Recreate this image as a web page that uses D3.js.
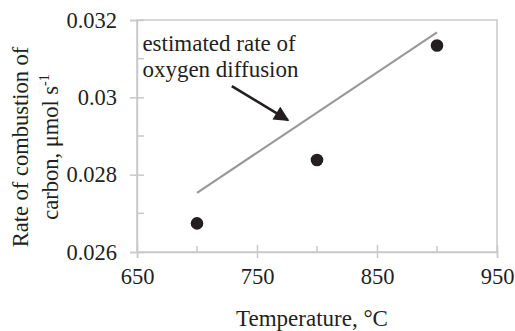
<!DOCTYPE html>
<meta charset="utf-8">
<style>
body { margin: 0; background: #fff; }
</style>
<div id="chart"></div>
<script src="https://cdn.jsdelivr.net/npm/d3@7/dist/d3.min.js"></script>
<script>
// measured rate of combustion
var temps = [700, 800, 900];
var rates = [0.02674, 0.02838, 0.03134];
// estimated oxygen diffusion line (end points)
var lineTemps = [700, 900];
var lineRates = [0.02753, 0.03168];
var xTicks = [650, 750, 850, 950];
var xMinor = [700, 800, 900];
var yTicks = [0.026, 0.028, 0.03, 0.032];
var yMinor = [0.027, 0.029, 0.031];

var serif = "'Liberation Serif', 'Times New Roman', serif";
var ink = "#231f20";

var W = 515, H = 331;
var margin = {top: 20, right: 18, bottom: 79, left: 137};
var width = W - margin.left - margin.right,
    height = H - margin.top - margin.bottom;

var svg = d3.select("#chart").append("svg")
    .attr("width", W).attr("height", H)
    .style("font-family", serif);

svg.append("defs").append("marker")
    .attr("id", "head")
    .attr("viewBox", "0 0 10 10")
    .attr("refX", 9).attr("refY", 5)
    .attr("markerWidth", 6.2).attr("markerHeight", 5.8)
    .attr("markerUnits", "strokeWidth")
    .attr("orient", "auto")
  .append("path")
    .attr("d", "M0,0L10,5L0,10Z")
    .attr("fill", ink);

var g = svg.append("g").attr("transform", "translate(" + margin.left + "," + margin.top + ")");

var x = d3.scaleLinear().domain([650, 950]).range([0, width]);
var y = d3.scaleLinear().domain([0.026, 0.032]).range([height, 0]);

var axisColor = "#c9c9c9";

// plot frame
g.append("rect")
    .attr("width", width).attr("height", height)
    .attr("fill", "none").attr("stroke", axisColor).attr("stroke-width", 1.5);

// major ticks (crossing the axis)
var xAxis = g.append("g").attr("transform", "translate(0," + height + ")")
    .call(d3.axisBottom(x).tickValues(xTicks).tickSize(6).tickPadding(10).tickFormat(d3.format("d")));
xAxis.selectAll(".tick line").attr("y1", -7);
var yAxis = g.append("g")
    .call(d3.axisLeft(y).tickValues(yTicks).tickSize(7).tickPadding(13).tickFormat(function(d) { return String(+d.toFixed(3)); }));
yAxis.selectAll(".tick line").attr("x1", 7);
[xAxis, yAxis].forEach(function(a) {
  a.attr("font-family", null).attr("font-size", null);
  a.select(".domain").attr("stroke", axisColor).attr("stroke-width", 1.5);
  a.selectAll(".tick line").attr("stroke", axisColor).attr("stroke-width", 1.5);
  a.selectAll(".tick text")
    .style("font-family", serif).style("font-size", "22.5px").attr("fill", ink);
});

// minor ticks, inside
g.selectAll(".xminor").data(xMinor).enter().append("line")
    .attr("x1", function(d) { return x(d); }).attr("x2", function(d) { return x(d); })
    .attr("y1", height).attr("y2", height - 6)
    .attr("stroke", axisColor).attr("stroke-width", 1.5);
g.selectAll(".yminor").data(yMinor).enter().append("line")
    .attr("y1", function(d) { return y(d); }).attr("y2", function(d) { return y(d); })
    .attr("x1", 0).attr("x2", 7)
    .attr("stroke", axisColor).attr("stroke-width", 1.5);

// diffusion line
g.append("path")
    .datum(d3.zip(lineTemps, lineRates))
    .attr("d", d3.line().x(function(d) { return x(d[0]); }).y(function(d) { return y(d[1]); }))
    .attr("stroke", "#999").attr("stroke-width", 2.2).attr("fill", "none");

// data points
g.selectAll(".pt").data(d3.zip(temps, rates)).enter().append("circle")
    .attr("cx", function(d) { return x(d[0]); })
    .attr("cy", function(d) { return y(d[1]); })
    .attr("r", 6.3)
    .attr("fill", ink);

// annotation
var label = g.append("text")
    .style("font-family", serif).style("font-size", "23px").attr("fill", ink);
label.append("tspan").attr("x", x(654.5)).attr("y", y(0.0312)).text("estimated rate of");
label.append("tspan").attr("x", x(654.5)).attr("y", y(0.03053)).text("oxygen diffusion");

g.append("line")
    .attr("x1", x(729)).attr("y1", y(0.03029))
    .attr("x2", x(775.8)).attr("y2", y(0.02941))
    .attr("stroke", ink).attr("stroke-width", 2.6)
    .attr("marker-end", "url(#head)");

// axis titles
svg.append("text")
    .attr("x", 312).attr("y", 326)
    .attr("text-anchor", "middle")
    .style("font-family", serif).style("font-size", "23px").attr("fill", ink)
    .text("Temperature, °C");

var yt = svg.append("text")
    .attr("transform", "translate(28,147) rotate(-90)")
    .attr("text-anchor", "middle")
    .style("font-family", serif).style("font-size", "22.5px").attr("fill", ink);
yt.append("tspan").attr("x", 0).attr("y", 0).text("Rate of combustion of");
var l2 = yt.append("tspan").attr("x", 0).attr("y", 0).attr("dy", 29.5);
l2.append("tspan").text("carbon, μmol s");
l2.append("tspan").attr("dy", -9).style("font-size", "14px").text("-1");
</script>
